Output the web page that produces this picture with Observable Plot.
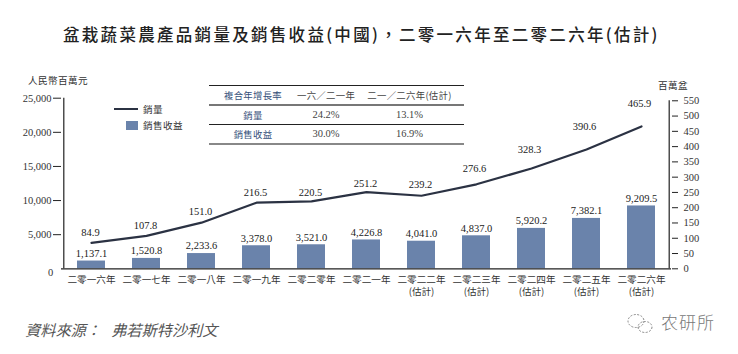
<!DOCTYPE html>
<html><head><meta charset="utf-8">
<script src="https://cdn.jsdelivr.net/npm/d3@7"></script>
<script src="https://cdn.jsdelivr.net/npm/@observablehq/plot@0.6"></script>
<style>
html,body{margin:0;padding:0;background:#fff}
#page{position:relative;width:738px;height:354px;overflow:hidden;font-family:"Noto Sans CJK TC","Liberation Serif",serif;color:#333}
#title{position:absolute;left:63px;top:22px;font-size:16.5px;font-weight:500;letter-spacing:2.3px;color:#222;line-height:24px;white-space:nowrap}
#chart{position:absolute;left:0;top:62px}
.unit{position:absolute;font-size:9.6px;line-height:12px;letter-spacing:.4px;color:#333;white-space:nowrap}
#caption{position:absolute;left:25px;top:318px;font-size:15.2px;line-height:22px;font-style:italic;color:#555;white-space:pre}
#mark{position:absolute;left:661px;top:310px;font-size:17px;line-height:24px;color:#777;letter-spacing:1px;font-weight:300}
#icon{position:absolute;left:626px;top:312px}
table{position:absolute;left:209px;top:85px;width:255px;border-collapse:collapse;font-size:9.4px;table-layout:fixed;letter-spacing:.3px}
td{padding:0;height:18px;text-align:center;line-height:12px;white-space:nowrap;color:#444}
td.num{font-family:"Liberation Serif",serif;font-size:10.5px;letter-spacing:0}
tr.h td{border-top:1px solid #222;border-bottom:2px solid #777}
tr.m td{border-bottom:1px solid #222}
tr.l td{border-bottom:2px solid #888}
td.b{color:#35507a}
#lg1{position:absolute;left:114px;top:108px;width:24px;height:2px;background:#2b3243}
#lg2{position:absolute;left:126px;top:121px;width:12px;height:9px;background:#6a83ab}
</style></head>
<body><div id="page">
<div id="title">盆栽蔬菜農產品銷量及銷售收益(中國)，二零一六年至二零二六年(估計)</div>
<div class="unit" style="left:28px;top:74px">人民幣百萬元</div>
<div class="unit" style="left:658px;top:79px">百萬盆</div>
<div id="chart"></div>
<div id="lg1"></div><div id="lg2"></div>
<div class="unit" style="left:143px;top:103px">銷量</div>
<div class="unit" style="left:143px;top:119px">銷售收益</div>
<table>
<colgroup><col style="width:88px"><col style="width:58px"><col style="width:109px"></colgroup>
<tr class="h"><td class="b">複合年增長率</td><td>一六／二一年</td><td>二一／二六年(估計)</td></tr>
<tr class="m"><td class="b">銷量</td><td class="num">24.2%</td><td class="num">13.1%</td></tr>
<tr class="l"><td class="b">銷售收益</td><td class="num">30.0%</td><td class="num">16.9%</td></tr>
</table>
<div id="caption">資料來源：   弗若斯特沙利文</div>
<svg id="icon" width="30" height="24" fill="none" stroke="#888" stroke-width="1" stroke-dasharray="2 1.5"><ellipse cx="10" cy="9" rx="8" ry="6.5"/><ellipse cx="19" cy="15" rx="7" ry="5.5"/></svg>
<div id="mark">农研所</div>
</div>
<script>
const years = ["二零一六年","二零一七年","二零一八年","二零一九年","二零二零年","二零二一年","二零二二年\n(估計)","二零二三年\n(估計)","二零二四年\n(估計)","二零二五年\n(估計)","二零二六年\n(估計)"];
const revenue = [1137.1,1520.8,2233.6,3378.0,3521.0,4226.8,4041.0,4837.0,5920.2,7382.1,9209.5];
const volume = [84.9,107.8,151.0,216.5,220.5,251.2,239.2,276.6,328.3,390.6,465.9];
const leftTicks = [5000,10000,15000,20000,25000];
const rightTicks = [0,50,100,150,200,250,300,350,400,450,500,550];
const volumeLabelLift = [10,10,11,10,9,8,11,16,19,23,23];

const k = 24620/550; // right axis units onto the left axis scale
const rows = years.map((year,i)=>({year,rev:revenue[i],vol:volume[i]*k,volLabel:volume[i].toFixed(1),revLabel:d3.format(",.1f")(revenue[i])}));
const serif = "'Liberation Serif',serif";
const ink = "#333";

const chart = Plot.plot({
  width:738,height:240,
  marginLeft:61,marginRight:67,marginTop:35.7,marginBottom:33.7,
  style:{background:"transparent",fontFamily:serif,fontSize:"10.5px",color:ink},
  x:{domain:years,paddingInner:0.5,paddingOuter:0.25,axis:null},
  y:{domain:[0,25000],axis:null},
  marks:[
    Plot.barY(rows,{x:"year",y:"rev",fill:"#6a83ab"}),
    Plot.ruleX([0],{y1:0,y2:25000,x:()=>years[0],dx:-27.7,stroke:"#222",strokeWidth:1.2}),
    Plot.ruleX([0],{y1:0,y2:550*k,x:()=>years[10],dx:27.7,stroke:"#222",strokeWidth:1.2}),
    Plot.ruleY([0],{stroke:"#222",strokeWidth:1.2}),
    Plot.axisY({ticks:leftTicks,tickSize:8,tickPadding:2,tickFormat:d3.format(","),label:null,fontSize:10.5,stroke:"#222",fill:ink}),
    Plot.text([0],{x:()=>years[0],y:0,text:()=>"0",dx:-41,dy:3.5,fill:ink,fontSize:10.5}),
    Plot.axisY({anchor:"right",ticks:rightTicks.map(t=>t*k),tickSize:6,tickPadding:6,tickFormat:d=>String(Math.round(d/k)),label:null,fontSize:10.5,stroke:"#222",fill:ink}),
    Plot.line(rows,{x:"year",y:"vol",stroke:"#2b3243",strokeWidth:2.2,strokeLinejoin:"round"}),
    Plot.text(rows,{x:"year",y:"rev",text:"revLabel",dy:-7.5,fill:"#222",fontSize:10.5}),
    ...rows.map((r,i)=>Plot.text([r],{x:"year",y:"vol",text:"volLabel",dy:-volumeLabelLift[i],dx:i>6?-2:-1,fill:"#222",fontSize:10.5})),
    Plot.axisX({domain:years,tickSize:0,tickPadding:6,label:null,fontFamily:"'Noto Sans CJK TC',sans-serif",fontSize:9.6,fill:ink,lineHeight:1.25})
  ]
});
document.getElementById("chart").appendChild(chart);
</script>
</body></html>
